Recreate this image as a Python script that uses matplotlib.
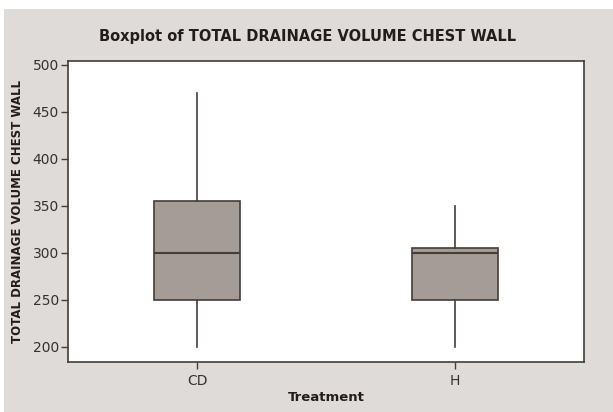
import matplotlib
matplotlib.use("Agg")
import matplotlib.pyplot as plt
from matplotlib.patches import Rectangle

groups = ["CD", "H"]
whislo = [200, 200]
q1 = [250, 250]
med = [300, 300]
q3 = [355, 305]
whishi = [470, 350]

bg = "#dedbd8"
edge = "#463c38"
fill = "#a49c97"

fig = plt.figure(figsize=(6.13, 4.12), dpi=100)
fig.patch.set_facecolor("white")
fig.patches.append(Rectangle((4 / 613, 0), 1, 1 - 9 / 412, transform=fig.transFigure,
                             facecolor=bg, edgecolor="none", zorder=-10))
ax = fig.add_axes([68 / 613, 1 - 362 / 412, (584 - 68) / 613, (362 - 61) / 412])

stats = []
for i, g in enumerate(groups):
    stats.append({"label": g, "whislo": whislo[i], "q1": q1[i], "med": med[i],
                  "q3": q3[i], "whishi": whishi[i], "fliers": []})

ax.bxp(stats, positions=[1, 2], widths=0.337, showcaps=False, patch_artist=True,
       boxprops=dict(facecolor=fill, edgecolor=edge, linewidth=1.2),
       medianprops=dict(color=edge, linewidth=1.5),
       whiskerprops=dict(color=edge, linewidth=1.2))

ax.set_xlim(0.5, 2.5)
ax.set_ylim(184, 504)
ax.set_yticks([200, 250, 300, 350, 400, 450, 500])
for s in ax.spines.values():
    s.set_color(edge)
    s.set_linewidth(1.2)
ax.tick_params(colors=edge, labelcolor="#333333", labelsize=10, length=5, width=1)
ax.tick_params(axis="y", pad=1.5)

fig.suptitle("Boxplot of TOTAL DRAINAGE VOLUME CHEST WALL", x=308 / 613, y=1 - 37 / 412,
             va="center", fontsize=10.5, fontweight="bold", color="#231c1a")
ax.set_xlabel("Treatment", fontsize=9.5, fontweight="bold", color="#231c1a", labelpad=2)
ax.set_ylabel("TOTAL DRAINAGE VOLUME CHEST WALL", fontsize=8.5, fontweight="bold",
              color="#231c1a", labelpad=6)

fig.savefig("out.png", dpi=100, facecolor=fig.get_facecolor())
